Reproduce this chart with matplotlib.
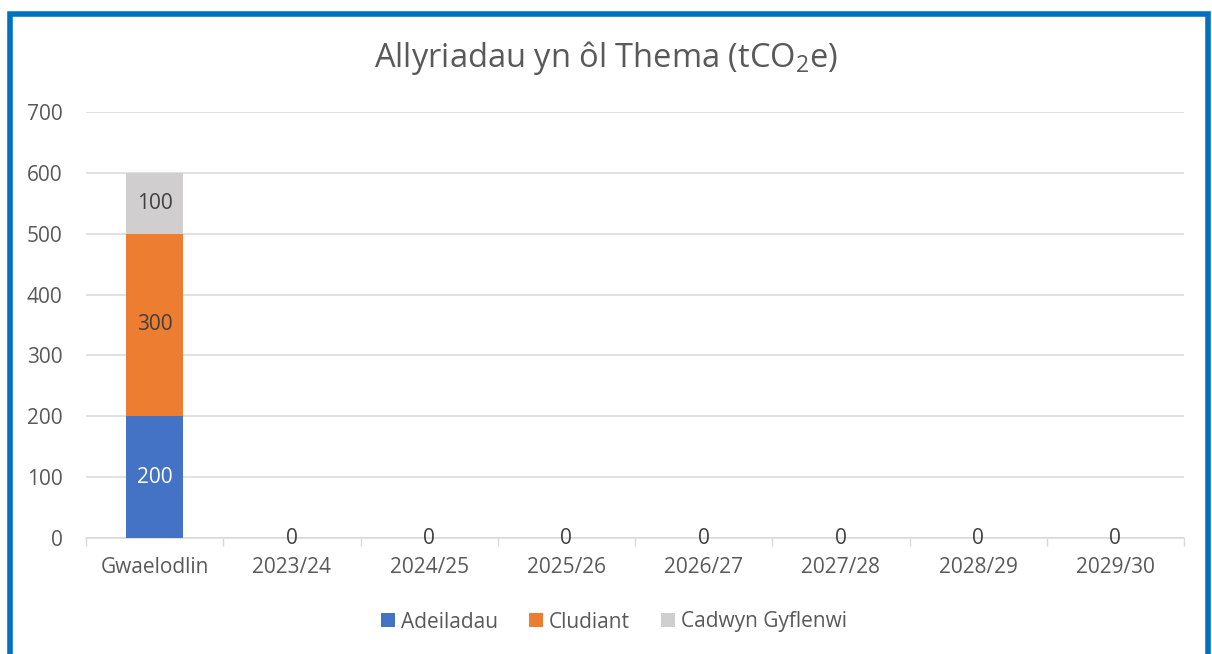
import matplotlib
matplotlib.use("Agg")
import matplotlib.pyplot as plt
from matplotlib.patches import Rectangle
import numpy as np

categories = ["Gwaelodlin", "2023/24", "2024/25", "2025/26", "2026/27", "2027/28", "2028/29", "2029/30"]
adeiladau = [200, 0, 0, 0, 0, 0, 0, 0]
cludiant = [300, 0, 0, 0, 0, 0, 0, 0]
cadwyn = [100, 0, 0, 0, 0, 0, 0, 0]
series_names = ["Adeiladau", "Cludiant", "Cadwyn Gyflenwi"]
colors = ["#4472C4", "#ED7D31", "#D0CECE"]
yticks = [0, 100, 200, 300, 400, 500, 600, 700]

plt.rcParams['font.family'] = ['Open Sans', 'DejaVu Sans']
plt.rcParams['mathtext.fontset'] = 'custom'
plt.rcParams['mathtext.rm'] = 'Open Sans'
plt.rcParams['mathtext.it'] = 'Open Sans'

txt = "#595959"
dark = "#404040"
fs = 15

fig = plt.figure(figsize=(12.12, 6.54), dpi=100)
ax = fig.add_axes([86/1212, 1-538/654, (1184-86)/1212, (538-112)/654])

x = np.arange(len(categories))
w = 0.41
data = [adeiladau, cludiant, cadwyn]
bottom = np.zeros(len(categories))
for vals, name, c in zip(data, series_names, colors):
    v = np.array(vals, dtype=float)
    ax.bar(x, v, w, bottom=bottom, color=c, label=name, zorder=3)
    for xi, vi, bi in zip(x, v, bottom):
        if vi > 0:
            ax.text(xi, bi + vi/2, f"{int(vi)}", ha="center", va="center",
                    fontsize=fs, color="white" if c == "#4472C4" else dark, zorder=4)
    bottom += v

for xi, tot in zip(x, bottom):
    if tot == 0:
        ax.text(xi, 0, "0", ha="center", va="center", fontsize=fs, color=dark, zorder=4)

ax.set_xlim(-0.5, len(categories) - 0.5)
ax.set_ylim(0, 700)
ax.set_yticks(yticks)
ax.set_yticklabels([str(t) for t in yticks])
ax.set_xticks(x)
ax.set_xticklabels(categories)
ax.set_xticks(np.arange(-0.5, len(categories)), minor=True)
ax.tick_params(axis="x", which="major", length=0, pad=14, labelsize=fs, labelcolor=txt)
ax.tick_params(axis="x", which="minor", length=6, color="#D9D9D9", width=1)
ax.tick_params(axis="y", length=0, pad=17, labelsize=fs, labelcolor=txt)
ax.grid(axis="y", color="#D9D9D9", linewidth=1.1, zorder=0)
ax.set_axisbelow(True)
for s in ["top", "right", "left"]:
    ax.spines[s].set_visible(False)
ax.spines["bottom"].set_color("#D9D9D9")
ax.spines["bottom"].set_linewidth(1.1)

fig.text(0.5, 1-58/654, r"Allyriadau yn ôl Thema (tCO$_2$e)", ha="center", va="center",
         fontsize=23.5, color=txt)

leg = fig.legend(loc="center", bbox_to_anchor=(614/1212, 1-622/654), ncol=3, frameon=False,
                 fontsize=fs, handlelength=0.65, handleheight=0.65, handletextpad=0.3,
                 columnspacing=1.5, labelcolor=txt)

fig.patches.append(Rectangle((9.5/1212, -0.1), (1207.5-9.5)/1212, 0.1 + 1 - 13.5/654,
                             transform=fig.transFigure, fill=False, edgecolor="#0070C0",
                             linewidth=4, figure=fig, clip_on=False))

fig.savefig("out.png", dpi=100)
